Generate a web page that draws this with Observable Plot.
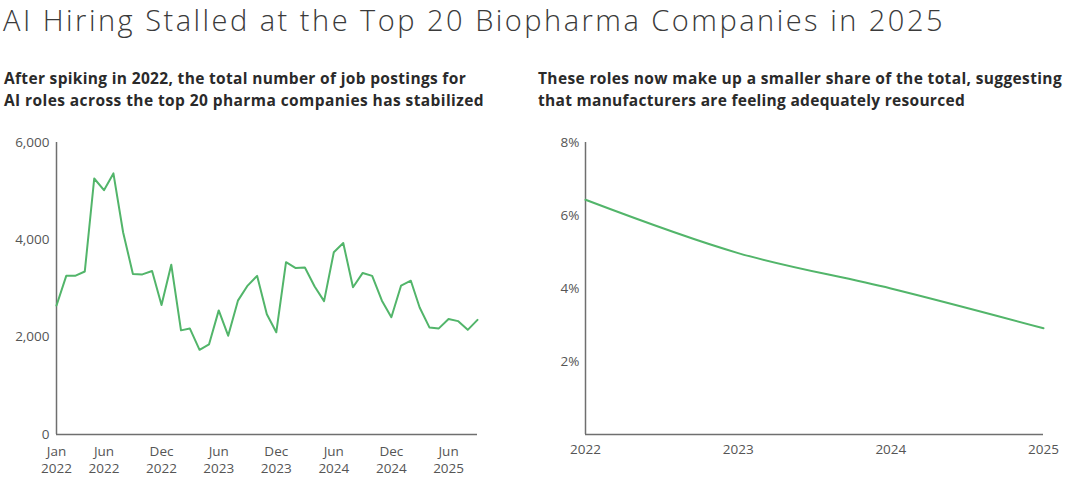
<!DOCTYPE html>
<html>
<head>
<meta charset="utf-8">
<script src="https://cdn.jsdelivr.net/npm/d3@7"></script>
<script src="https://cdn.jsdelivr.net/npm/@observablehq/plot@0.6"></script>
<style>
  html, body { margin: 0; padding: 0; background: #fff; }
  body { width: 1080px; height: 488px; position: relative; overflow: hidden; font-family: "Open Sans", Roboto, sans-serif; }
  #title { position: absolute; left: 3px; top: 0px; font-size: 29px; font-weight: 300; color: #3a3a3a; white-space: nowrap; }
  .sub { position: absolute; font-size: 15.5px; font-weight: 700; color: #2a2a2a; white-space: nowrap; }
  .sub span { display: block; position: absolute; left: 0; white-space: nowrap; }
  #left { position: absolute; left: 0; top: 130px; }
  #right { position: absolute; left: 540px; top: 130px; }
</style>
</head>
<body>
<div id="title">AI Hiring Stalled at the Top 20 Biopharma Companies in 2025</div>
<div class="sub" id="subL" style="left:4px;top:0"><span style="top:67px">After spiking in 2022, the total number of job postings for</span><span style="top:89px">AI roles across the top 20 pharma companies has stabilized</span></div>
<div class="sub" id="subR" style="left:538px;top:0"><span style="top:67px">These roles now make up a smaller share of the total, suggesting</span><span style="top:89px">that manufacturers are feeling adequately resourced</span></div>
<div id="left"></div>
<div id="right"></div>
<script>
// Monthly AI job postings, Jan 2022 – Sep 2025
const startMonth = "2022-01";
const postings = [
  2650, 3260, 3260, 3350, 5260, 5020, 5365, 4150, 3300, 3290, 3360, 2660,
  3490, 2140, 2180, 1740, 1850, 2550, 2030, 2750, 3060, 3260, 2470, 2100,
  3540, 3420, 3430, 3040, 2740, 3745, 3935, 3025, 3320, 3260, 2750, 2410,
  3060, 3160, 2610, 2200, 2180, 2375, 2330, 2150, 2355
];
const leftYTicks = [0, 2000, 4000, 6000];
const leftXTicks = ["2022-01", "2022-06", "2022-12", "2023-06", "2023-12", "2024-06", "2024-12", "2025-06"];

// Share of total postings (%)
const years = [2022, 2023, 2024, 2025];
const share = [6.43, 4.97, 4.0, 2.91];
const rightYTicks = [2, 4, 6, 8];

const green = "#52b56a";
const axisGray = "#6f6f6f";
const labelGray = "#555";

// fit text widths to the reference layout
function fit(el, target) {
  el.style.letterSpacing = "0px";
  const w = el.getBoundingClientRect().width;
  const n = el.textContent.length;
  el.style.letterSpacing = ((target - w) / n) + "px";
}
fit(document.getElementById("title"), 942);
const sl = document.querySelectorAll("#subL span");
fit(sl[0], 462); fit(sl[1], 480);
const sr = document.querySelectorAll("#subR span");
fit(sr[0], 524); fit(sr[1], 427);

const parseMonth = d3.utcParse("%Y-%m");
const t0 = parseMonth(startMonth);
const monthly = postings.map((v, i) => ({date: d3.utcMonth.offset(t0, i), value: v}));
const xTickDates = leftXTicks.map(parseMonth);
const fmtMonth = d3.utcFormat("%b\n%Y");

const left = Plot.plot({
  width: 500,
  height: 350,
  marginLeft: 56,
  marginRight: 23,
  marginTop: 12,
  marginBottom: 46,
  style: {fontFamily: "'Open Sans', sans-serif", fontSize: "13.5px", color: labelGray, background: "transparent"},
  x: {type: "utc", domain: [monthly[0].date, monthly[monthly.length - 1].date]},
  y: {domain: [0, 6000]},
  marks: [
    Plot.axisY({ticks: leftYTicks, tickSize: 0, tickPadding: 7, tickFormat: d3.format(","), label: null, fontSize: 13.5}),
    Plot.axisX({ticks: xTickDates, tickSize: 0, tickPadding: 10, tickFormat: fmtMonth, label: null, fontSize: 13.5, lineHeight: 1.25}),
    Plot.ruleY([0], {stroke: axisGray, strokeWidth: 1.5}),
    Plot.ruleX([monthly[0].date], {stroke: axisGray, strokeWidth: 1.5}),
    Plot.line(monthly, {x: "date", y: "value", stroke: green, strokeWidth: 2})
  ]
});
document.getElementById("left").appendChild(left);

const shareData = years.map((y, i) => ({year: y, value: share[i]}));
const right = Plot.plot({
  width: 540,
  height: 350,
  marginLeft: 45,
  marginRight: 37,
  marginTop: 12,
  marginBottom: 46,
  style: {fontFamily: "'Open Sans', sans-serif", fontSize: "13.5px", color: labelGray, background: "transparent"},
  x: {domain: [years[0], years[years.length - 1]]},
  y: {domain: [0, 8]},
  marks: [
    Plot.axisY({ticks: rightYTicks, tickSize: 0, tickPadding: 6, tickFormat: d => d + "%", label: null, fontSize: 13.5}),
    Plot.axisX({ticks: years, tickSize: 0, tickPadding: 10, tickFormat: d => String(d), label: null, fontSize: 13.5}),
    Plot.ruleY([0], {stroke: axisGray, strokeWidth: 1.5}),
    Plot.ruleX([years[0]], {stroke: axisGray, strokeWidth: 1.5}),
    Plot.line(shareData, {x: "year", y: "value", stroke: green, strokeWidth: 2, curve: "catmull-rom"})
  ]
});
document.getElementById("right").appendChild(right);
</script>
</body>
</html>
